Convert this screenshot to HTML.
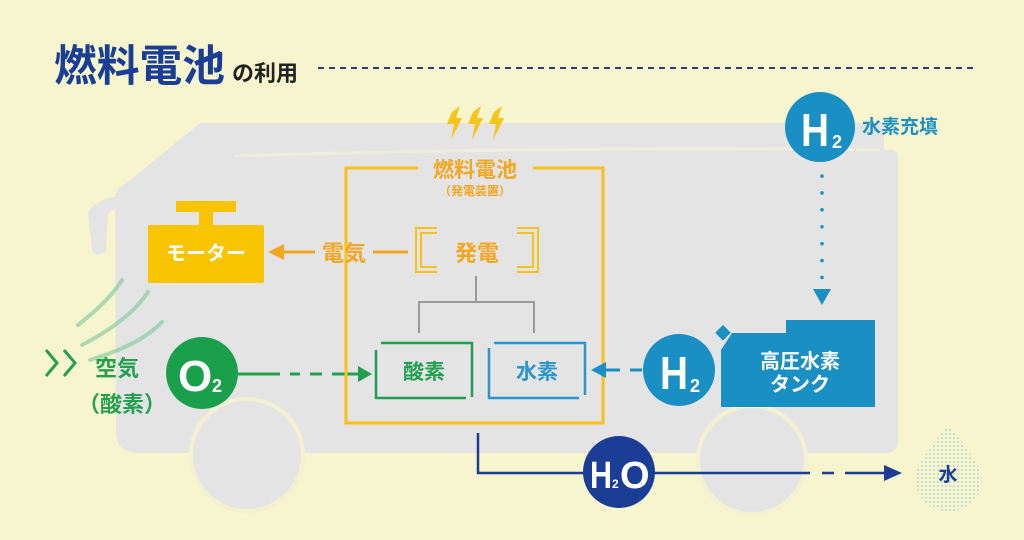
<!DOCTYPE html>
<html><head><meta charset="utf-8"><style>
html,body{margin:0;padding:0;background:#f6f5cd;}
svg{display:block}
text{font-family:"Liberation Sans","Noto Sans CJK JP",sans-serif;font-weight:bold}
</style></head><body>
<svg width="1024" height="540" viewBox="0 0 1024 540" xmlns="http://www.w3.org/2000/svg">
<defs>
<pattern id="dots" width="4" height="4" patternUnits="userSpaceOnUse"><circle cx="2" cy="2" r="1" fill="#b7d9d6"/></pattern>
</defs>
<rect width="1024" height="540" fill="#f6f5cd"/>
<!-- title -->
<text x="54" y="81" font-size="43" fill="#1a3d96" font-weight="900" textLength="171" lengthAdjust="spacingAndGlyphs">燃料電池</text>
<text x="232" y="81" font-size="22" fill="#222">の利用</text>
<line x1="318" y1="68" x2="978" y2="68" stroke="#2a3f7a" stroke-width="2" stroke-dasharray="6,5"/>
<!-- bus body -->
<path d="M200 123 L880 123 Q884 123 884 130 L884 150 L892 150 Q898 150 898 160 L898 440 Q898 453 885 453 L140 453 Q118 453 116 435 L115 200 Q115 188 128 182 Z" fill="#e4e4e4"/>
<path d="M235 156 Q560 146 880 150" stroke="#f3f2d8" stroke-width="3" fill="none" opacity="0.7"/>
<!-- mirror -->
<path d="M128 195 Q95 198 88 213 L92 250 Q96 258 106 252 L108 215 Q112 207 128 204 Z" fill="#e4e4e4"/>
<!-- wheels -->
<circle cx="247" cy="455" r="58" fill="#f3f2d0"/>
<circle cx="247" cy="455" r="54" fill="#e4e4e4"/>
<circle cx="752" cy="460" r="56" fill="#f3f2d0"/>
<circle cx="752" cy="460" r="52" fill="#e4e4e4"/>
<!-- air waves -->
<g fill="none" stroke="#7cc89a" stroke-width="4" opacity="0.6" stroke-linecap="round">
<path d="M78 325 Q110 300 122 280"/>
<path d="M82 345 Q130 320 148 292"/>
<path d="M90 360 Q140 345 162 322"/>
</g>
<!-- chevrons -->
<g fill="none" stroke="#22a050" stroke-width="3"><path d="M46 350 L57 363 L46 376"/><path d="M64 350 L75 363 L64 376"/></g>
<text x="95" y="376" font-size="22" fill="#22a050">空気</text>
<text x="78" y="412" font-size="22" fill="#22a050">（酸素）</text>
<!-- O2 -->
<circle cx="202" cy="373" r="36" fill="#1aa04a"/>
<text x="178" y="391" font-size="44" fill="#fff">O</text><text x="212" y="392" font-size="18" fill="#fff">2</text>
<path d="M238 374 L280 374" stroke="#22a050" stroke-width="3"/>
<path d="M290 374 L300 374 M310 374 L322 374 M332 374 L358 374" stroke="#22a050" stroke-width="3"/>
<path d="M358 366 L372 374 L358 382 Z" fill="#22a050"/>
<!-- lightning -->
<g fill="#f6c51a">
<path d="M452 112 L460 106 L456 118 L462 118 L451 140 L454 124 L447 124 Z"/>
<path d="M473 112 L481 106 L477 118 L483 118 L472 140 L475 124 L468 124 Z"/>
<path d="M494 112 L502 106 L498 118 L504 118 L493 140 L496 124 L489 124 Z"/>
</g>
<!-- fuel cell box -->
<path d="M418 168 L346 168 L346 423 L603 423 L603 168 L533 168" fill="none" stroke="#f6c21a" stroke-width="3"/>
<text x="475" y="177" font-size="21" fill="#f2a722" text-anchor="middle">燃料電池</text>
<text x="475" y="195" font-size="12" fill="#f2a722" text-anchor="middle">（発電装置）</text>
<!-- motor -->
<rect x="176" y="201" width="60" height="11" fill="#f8c400"/>
<rect x="199" y="211" width="14" height="16" fill="#f8c400"/>
<rect x="148" y="225" width="116" height="58" rx="2" fill="#f8c400"/>
<text x="206" y="260" font-size="20" fill="#fff" text-anchor="middle">モーター</text>
<path d="M315 252 L284 252" stroke="#f2a722" stroke-width="3"/>
<path d="M284 244 L268 252 L284 260 Z" fill="#f2a722"/>
<text x="322" y="261" font-size="22" fill="#f2a722">電気</text>
<path d="M373 252 L408 252" stroke="#f2a722" stroke-width="3"/>
<g fill="none" stroke="#f6c21a" stroke-width="2">
<path d="M437 228 L416 228 L416 272 L437 272"/><path d="M437 233 L421 233 L421 267 L437 267"/>
<path d="M517 228 L538 228 L538 272 L517 272"/><path d="M517 233 L533 233 L533 267 L517 267"/>
</g>
<text x="477" y="261" font-size="22" fill="#f2a722" text-anchor="middle">発電</text>
<path d="M476 276 L476 302 M419 333 L419 302 L534 302 L534 333" fill="none" stroke="#999" stroke-width="2"/>
<!-- 酸素 box -->
<path d="M381 343 L472 343 L472 397 M466 398 L376 398 L376 350" fill="none" stroke="#22a050" stroke-width="2.5"/>
<text x="424" y="379" font-size="21" fill="#22a050" text-anchor="middle">酸素</text>
<path d="M494 343 L585 343 L585 395 M579 398 L489 398 L489 348" fill="none" stroke="#2a96cc" stroke-width="2.5"/>
<text x="537" y="379" font-size="21" fill="#2a96cc" text-anchor="middle">水素</text>
<!-- H2 middle -->
<path d="M606 370 L620 370 M630 370 L642 370" stroke="#1a8fc4" stroke-width="3"/>
<path d="M606 362 L591 370 L606 378 Z" fill="#1a8fc4"/>
<circle cx="679" cy="370" r="36" fill="#1a8fc4"/>
<text x="660" y="389" font-size="46" fill="#fff" textLength="28" lengthAdjust="spacingAndGlyphs">H</text><text x="690" y="392" font-size="18" fill="#fff">2</text>
<!-- tank -->
<path d="M786 320 L793 320 L875 320 L875 333 L786 333 Z M791 320 L781 333" fill="#1a8fc4"/>
<path d="M732 333 L875 333 L875 407 L721 407 L721 350 Z" fill="#1a8fc4"/>
<rect x="718" y="327" width="11" height="11" fill="#1a8fc4" transform="rotate(45 723 332)"/>
<text x="800" y="368" font-size="20" fill="#fff" text-anchor="middle">高圧水素</text>
<text x="800" y="391" font-size="20" fill="#fff" text-anchor="middle">タンク</text>
<!-- H2 top -->
<circle cx="820" cy="127" r="35" fill="#1a8fc4"/>
<text x="801" y="146" font-size="46" fill="#fff" textLength="28" lengthAdjust="spacingAndGlyphs">H</text><text x="832" y="148" font-size="18" fill="#fff">2</text>
<text x="862" y="133" font-size="19" fill="#1a8fc4">水素充填</text>
<line x1="822" y1="176" x2="822" y2="282" stroke="#1a8fc4" stroke-width="3.5" stroke-dasharray="0.1,16.8" stroke-linecap="round"/>
<path d="M813 289 L831 289 L822 305 Z" fill="#1a8fc4"/>
<!-- H2O -->
<path d="M478 433 L478 473 L810 473" fill="none" stroke="#1a3d96" stroke-width="2.5"/>
<path d="M822 473 L834 473 M845 473 L886 473" stroke="#1a3d96" stroke-width="2.5"/>
<path d="M884 465 L902 473 L884 481 Z" fill="#1a3d96"/>
<circle cx="619" cy="472" r="36" fill="#1a3d96"/>
<text x="590" y="488" font-size="38" fill="#fff" textLength="22" lengthAdjust="spacingAndGlyphs">H</text><text x="612" y="488" font-size="12" fill="#fff">2</text><text x="620" y="488" font-size="38" fill="#fff">O</text>
<!-- droplet -->
<path d="M948 425 Q915 465 915 478 A33 33 0 0 0 982 478 Q982 465 948 425 Z" fill="url(#dots)"/>
<text x="948" y="481" font-size="19" fill="#1a3d96" text-anchor="middle">水</text>
</svg>
</body></html>
